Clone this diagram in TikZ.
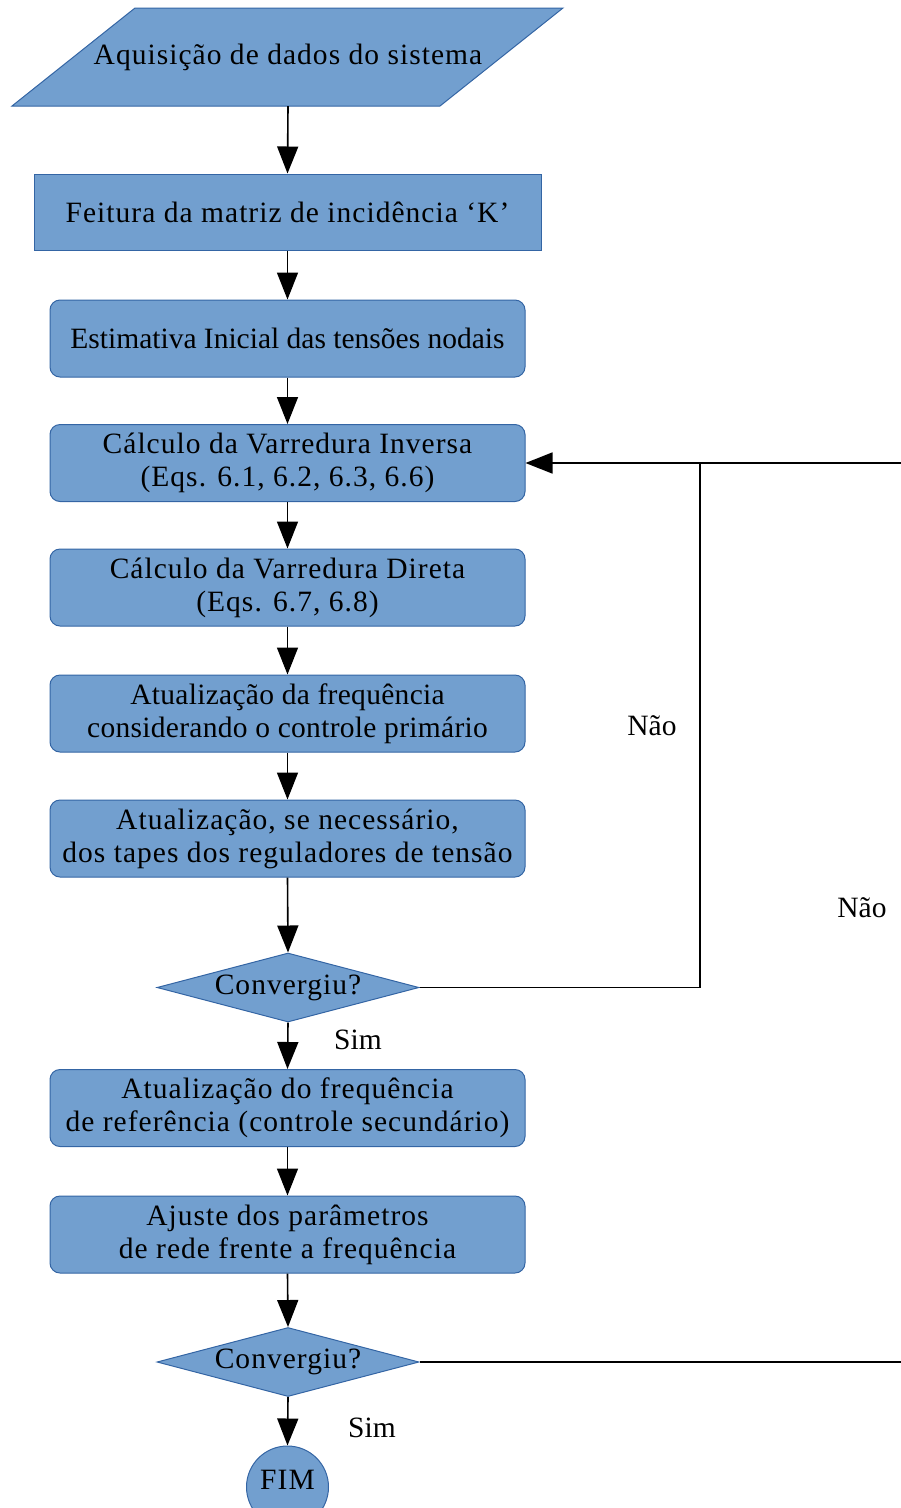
\documentclass[tikz,border=0pt]{standalone}
\usepackage{fontspec}
\setmainfont{Liberation Serif}
\usetikzlibrary{arrows.meta,shapes.geometric}
\definecolor{boxfill}{HTML}{729FCF}
\definecolor{boxline}{HTML}{3465A4}
\newcommand{\chartfont}{\fontsize{29.5}{33}\selectfont}
\newcommand{\widefont}{\fontsize{29.5}{33}\selectfont\addfontfeature{LetterSpace=3.5}}
\tikzset{
  base/.style={draw=boxline, fill=boxfill, line width=1pt, inner sep=0pt,
    font=\widefont, align=center},
  tight/.style={font=\chartfont},
  procbox/.style={base, rectangle, minimum width=475pt, minimum height=77pt, rounded corners=10pt},
  plainbox/.style={base, rectangle, minimum width=507pt, minimum height=76pt},
  decision/.style={base, diamond, aspect=3.8, minimum width=262pt, minimum height=69pt},
  endnode/.style={base, circle, minimum size=82pt},
  flow/.style={line width=1.6pt, -{Triangle[length=27pt,width=21pt]}},
  wire/.style={line width=1.6pt},
  note/.style={font=\chartfont, inner sep=0pt}
}
\begin{document}
\begin{tikzpicture}[x=1pt,y=-1pt]
\useasboundingbox (0,0) rectangle (901,1508);

% input parallelogram
\fill[boxfill, draw=boxline, line width=1pt] (12,106) -- (135,8) -- (563,8) -- (440,106) -- cycle;
\node[font=\widefont, minimum height=98pt, minimum width=300pt, inner sep=0pt] (inp) at (288,57) {Aquisição de dados do sistema};

\node[plainbox] (kmat) at (287.5,212) {Feitura da matriz de incidência ‘K’};
\node[procbox, tight] (est) at (287.5,338.5) {Estimativa Inicial das tensões nodais};
\node[procbox] (inv) at (287.5,463) {Cálculo da Varredura Inversa\\(Eqs. 6.1, 6.2, 6.3, 6.6)};
\node[procbox] (dir) at (287.5,587.5) {Cálculo da Varredura Direta\\(Eqs. 6.7, 6.8)};
\node[procbox, font=\chartfont\addfontfeature{LetterSpace=1}] (freq) at (287.5,713.5) {Atualização da frequência\\considerando o controle primário};
\node[procbox] (tap) at (287.5,838.5) {Atualização, se necessário,\\dos tapes dos reguladores de tensão};
\node[decision, label={center:{\widefont Convergiu?}}] (conv1) at (288,987.5) {};
\node[procbox] (ref) at (287.5,1108) {Atualização do frequência\\de referência (controle secundário)};
\node[procbox] (adj) at (287.5,1234.5) {Ajuste dos parâmetros\\de rede frente a frequência};
\node[decision, label={center:{\widefont Convergiu?}}] (conv2) at (288,1362) {};
\node[endnode, label={[yshift=7pt]center:{\widefont FIM}}] (fim) at (287.5,1487) {};

% main flow
\draw[flow] (inp.south) -- (kmat.north);
\draw[flow] (kmat.south) -- (est.north);
\draw[flow] (est.south) -- (inv.north);
\draw[flow] (inv.south) -- (dir.north);
\draw[flow] (dir.south) -- (freq.north);
\draw[flow] (freq.south) -- (tap.north);
\draw[flow] (tap.south) -- (conv1.north);
\draw[flow] (conv1.south) -- (ref.north);
\draw[flow] (ref.south) -- (adj.north);
\draw[flow] (adj.south) -- (conv2.north);
\draw[flow] (conv2.south) -- (fim.north);

% feedback loops
\coordinate (j1) at (700,463);
\coordinate (r1) at (901,463);
\coordinate (r2) at (901,1362);
\draw[flow] (conv1.east) -| (j1) -- (inv.east);
\draw[wire] (r1) -- (j1);
\draw[wire] (conv2.east) -- (r2);

% branch labels
\node[note] (nao1) at (652,726) {Não};
\node[note] (nao2) at (862,908) {Não};
\node[note] (sim1) at (358,1040) {Sim};
\node[note] (sim2) at (372,1428) {Sim};
\end{tikzpicture}
\end{document}
